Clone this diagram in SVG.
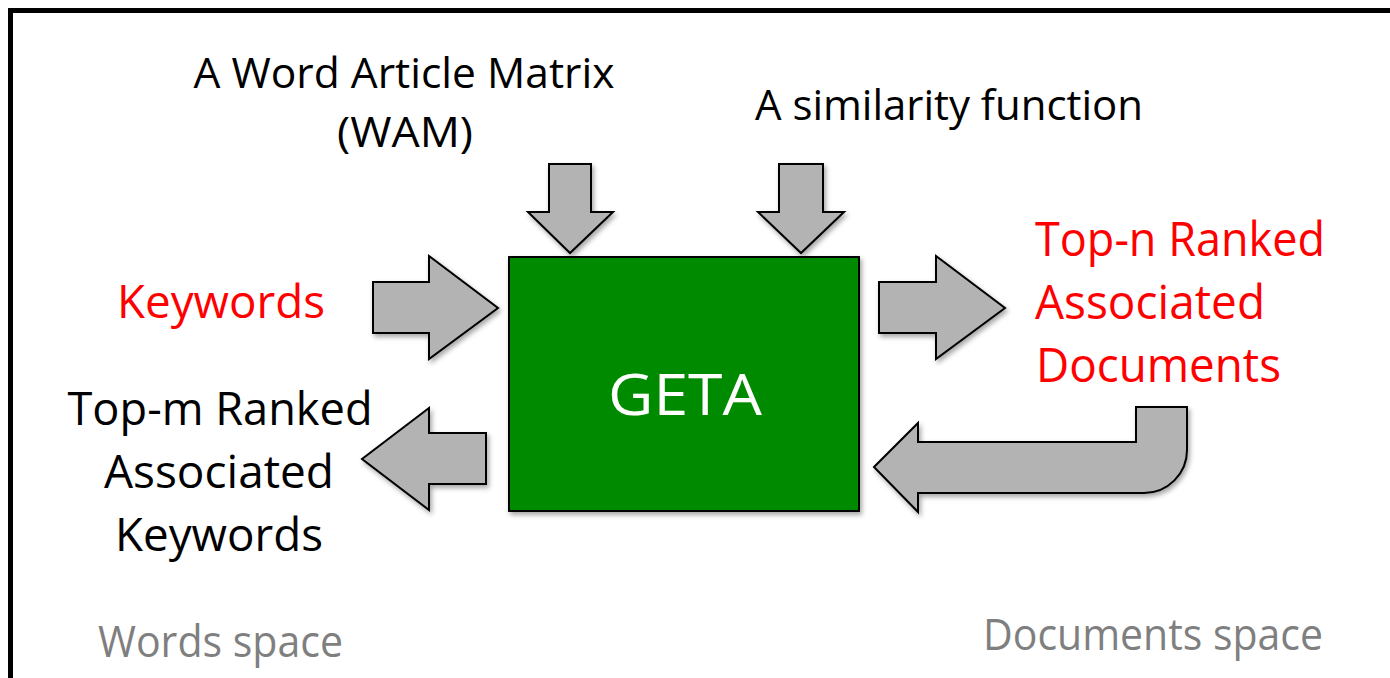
<svg xmlns="http://www.w3.org/2000/svg" width="1390" height="678" viewBox="0 0 1390 678">
  <style>
    .arrow { fill: #b3b3b3; stroke: #000; stroke-width: 2; stroke-linejoin: miter; filter: url(#shadow); }
    .label { font-family: "Open Sans", "Liberation Sans", sans-serif; }
    .black { fill: #000; }
    .red { fill: #ff0000; }
    .grey { fill: #7f7f7f; }
  </style>
  <defs>
    <filter id="shadow" x="-10%" y="-10%" width="130%" height="130%">
      <feDropShadow dx="2" dy="3" stdDeviation="2.5" flood-color="#000" flood-opacity="0.35"/>
    </filter>
  </defs>

  <rect width="1390" height="678" fill="#fff"/>

  <!-- frame (open on the right and bottom) -->
  <path d="M10.5,690 V10.5 H1400" fill="none" stroke="#000" stroke-width="5"/>

  <!-- central engine -->
  <g id="geta">
    <rect x="509" y="257" width="350" height="254" fill="#008a00" stroke="#000" stroke-width="2" filter="url(#shadow)"/>
    <text class="label" x="685" y="415" font-size="57" fill="#fff" text-anchor="middle" textLength="154" lengthAdjust="spacingAndGlyphs">GETA</text>
  </g>

  <!-- inputs and outputs -->
  <g id="wam">
    <text class="label black" x="404" y="88" font-size="42" text-anchor="middle" textLength="421" lengthAdjust="spacingAndGlyphs">A Word Article Matrix</text>
    <text class="label black" x="405" y="147" font-size="42" text-anchor="middle" textLength="136" lengthAdjust="spacingAndGlyphs">(WAM)</text>
  </g>
  <g id="similarity">
    <text class="label black" x="755" y="120" font-size="42" textLength="388" lengthAdjust="spacingAndGlyphs">A similarity function</text>
  </g>
  <g id="keywords">
    <text class="label red" x="117" y="318" font-size="46" textLength="208" lengthAdjust="spacingAndGlyphs">Keywords</text>
  </g>
  <g id="top-n-documents">
    <text class="label red" x="1035" y="256" font-size="47" textLength="290" lengthAdjust="spacingAndGlyphs">Top-n Ranked</text>
    <text class="label red" x="1035" y="319" font-size="47" textLength="230" lengthAdjust="spacingAndGlyphs">Associated</text>
    <text class="label red" x="1036" y="382" font-size="47" textLength="245" lengthAdjust="spacingAndGlyphs">Documents</text>
  </g>
  <g id="top-m-keywords">
    <text class="label black" x="220" y="425" font-size="46" text-anchor="middle" textLength="305" lengthAdjust="spacingAndGlyphs">Top-m Ranked</text>
    <text class="label black" x="219" y="488" font-size="46" text-anchor="middle" textLength="230" lengthAdjust="spacingAndGlyphs">Associated</text>
    <text class="label black" x="219" y="551" font-size="46" text-anchor="middle" textLength="208" lengthAdjust="spacingAndGlyphs">Keywords</text>
  </g>
  <g id="words-space">
    <text class="label grey" x="98" y="657" font-size="43" textLength="245" lengthAdjust="spacingAndGlyphs">Words space</text>
  </g>
  <g id="documents-space">
    <text class="label grey" x="983" y="650" font-size="44" textLength="340" lengthAdjust="spacingAndGlyphs">Documents space</text>
  </g>

  <!-- block arrows -->
  <g id="connectors">
    <polygon class="arrow" points="549,164 591,164 591,212 613,212 570,253 528,212 549,212"/>
    <polygon class="arrow" points="779,164 823,164 823,212 844,212 801,253 758,212 779,212"/>
    <polygon class="arrow" points="373,282 429,282 429,256 498,308 429,359 429,333 373,333"/>
    <polygon class="arrow" points="879,282 936,282 936,256 1005,308 936,359 936,333 879,333"/>
    <polygon class="arrow" points="486,433 429,433 429,408 362,459 429,510 429,484 486,484"/>
    <path class="arrow" d="M874,467 L918,423 L918,442 L1136,442 L1136,407 L1187,407 L1187,450 A43,43 0 0 1 1144,493 L918,493 L918,512 Z"/>
  </g>
</svg>
